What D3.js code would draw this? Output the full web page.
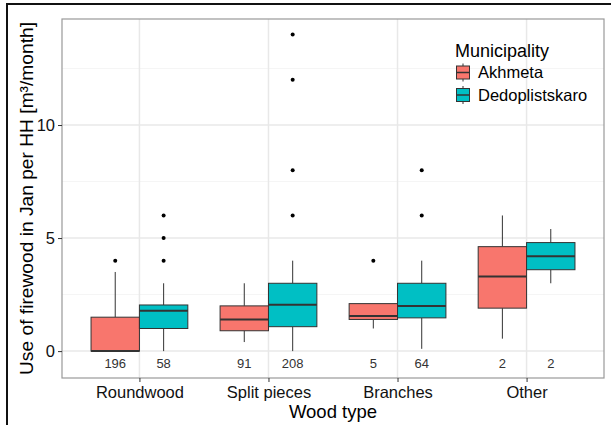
<!DOCTYPE html>
<html>
<head>
<meta charset="utf-8">
<script src="https://cdn.jsdelivr.net/npm/d3@7"></script>
<style>
  body { margin: 0; background: #fff; }
  svg text { font-family: "Liberation Sans", Arial, sans-serif; }
</style>
</head>
<body>
<div id="chart-area"></div>
<script>
// firewood use boxplot, Akhmeta vs Dedoplistskaro

let categories = ["Roundwood", "Split pieces", "Branches", "Other"];
let municipalities = ["Akhmeta", "Dedoplistskaro"];
let colors = ["#F8766D", "#00BFC4"];

// [lower whisker, q1, median, q3, upper whisker]
let akhmetaStats = [[0, 0, 0, 1.5, 3.5], [0.4, 0.9, 1.4, 2.0, 3.0], [1.0, 1.4, 1.55, 2.1, 2.1], [0.55, 1.9, 3.3, 4.62, 6.0]];
let dedoStats = [[0, 1.0, 1.78, 2.04, 3.0], [0, 1.08, 2.05, 3.0, 4.0], [0.1, 1.47, 2.0, 3.0, 4.0], [3.0, 3.6, 4.2, 4.8, 5.4]];

let akhmetaOutliers = [[4], [], [4], []];
let dedoOutliers = [[4, 5, 6], [6, 8, 12, 14], [6, 8], []];

let akhmetaN = [196, 91, 5, 2];
let dedoN = [58, 208, 64, 2];

let yTicks = [0, 5, 10];
let yMinor = [2.5, 7.5, 12.5];

let panel = {left: 62, top: 19, right: 604, bottom: 378};

let svg = d3.select("#chart-area").append("svg")
    .attr("width", 611)
    .attr("height", 425);

// outer frame (only top and left are visible)
svg.append("line").attr("x1", 6).attr("x2", 611).attr("y1", 4).attr("y2", 4)
    .attr("stroke", "#111").attr("stroke-width", 2);
svg.append("line").attr("x1", 7).attr("x2", 7).attr("y1", 3).attr("y2", 425)
    .attr("stroke", "#111").attr("stroke-width", 2);

// Scales
let x = d3.scalePoint()
    .domain(categories)
    .range([panel.left, panel.right])
    .padding(0.6);

let y = d3.scaleLinear()
    .domain([-1.19, 14.69])
    .range([panel.bottom, panel.top]);

let dodge = x.step() * 0.1875;
let boxW = x.step() * 0.375;

// grid
svg.selectAll(".minor").data(yMinor).enter().append("line")
    .attr("x1", panel.left).attr("x2", panel.right)
    .attr("y1", d => y(d)).attr("y2", d => y(d))
    .attr("stroke", "#f5f5f5").attr("stroke-width", 1);

svg.selectAll(".major-y").data(yTicks).enter().append("line")
    .attr("x1", panel.left).attr("x2", panel.right)
    .attr("y1", d => y(d)).attr("y2", d => y(d))
    .attr("stroke", "#e8e8e8").attr("stroke-width", 1.5);

svg.selectAll(".major-x").data(categories).enter().append("line")
    .attr("x1", d => x(d)).attr("x2", d => x(d))
    .attr("y1", panel.top).attr("y2", panel.bottom)
    .attr("stroke", "#e8e8e8").attr("stroke-width", 1.5);

// boxes
let groups = [
    {stats: akhmetaStats, out: akhmetaOutliers, n: akhmetaN, off: -dodge, fill: colors[0]},
    {stats: dedoStats, out: dedoOutliers, n: dedoN, off: dodge, fill: colors[1]}
];

groups.forEach(function (g) {
    categories.forEach(function (c, i) {
        let s = g.stats[i];
        let cx = x(c) + g.off;
        let b = svg.append("g");

        b.append("line")
            .attr("x1", cx).attr("x2", cx)
            .attr("y1", y(s[3])).attr("y2", y(s[4]))
            .attr("stroke", "#333").attr("stroke-width", 1);
        b.append("line")
            .attr("x1", cx).attr("x2", cx)
            .attr("y1", y(s[1])).attr("y2", y(s[0]))
            .attr("stroke", "#333").attr("stroke-width", 1);

        b.append("rect")
            .attr("x", cx - boxW / 2)
            .attr("y", y(s[3]))
            .attr("width", boxW)
            .attr("height", y(s[1]) - y(s[3]))
            .attr("fill", g.fill)
            .attr("stroke", "#333").attr("stroke-width", 1);

        b.append("line")
            .attr("x1", cx - boxW / 2).attr("x2", cx + boxW / 2)
            .attr("y1", y(s[2])).attr("y2", y(s[2]))
            .attr("stroke", "#333").attr("stroke-width", 2);

        b.selectAll("circle").data(g.out[i]).enter().append("circle")
            .attr("cx", cx).attr("cy", d => y(d))
            .attr("r", 2).attr("fill", "#000");

        svg.append("text")
            .attr("x", cx).attr("y", y(-0.55))
            .attr("dy", "0.35em")
            .attr("text-anchor", "middle")
            .attr("font-size", "13px")
            .attr("fill", "#333")
            .text(g.n[i]);
    });
});

// panel border
svg.append("rect")
    .attr("x", panel.left).attr("y", panel.top)
    .attr("width", panel.right - panel.left)
    .attr("height", panel.bottom - panel.top)
    .attr("fill", "none").attr("stroke", "#999").attr("stroke-width", 1.2);

// axes
let yAxis = d3.axisLeft(y).tickValues(yTicks).tickSize(4).tickPadding(3);
let xAxis = d3.axisBottom(x).tickSize(4).tickPadding(4);

svg.append("g")
    .attr("class", "y-axis")
    .attr("transform", "translate(" + panel.left + ",0)")
    .call(yAxis);

svg.append("g")
    .attr("class", "x-axis")
    .attr("transform", "translate(0," + panel.bottom + ")")
    .call(xAxis);

svg.selectAll(".domain").remove();
svg.selectAll(".tick line").attr("stroke", "#333");
svg.selectAll(".tick text")
    .attr("font-size", "16.5px")
    .attr("fill", "#111")
    .style("font-family", "'Liberation Sans', Arial, sans-serif");

// axis titles
svg.append("text")
    .attr("x", (panel.left + panel.right) / 2)
    .attr("y", 418)
    .attr("text-anchor", "middle")
    .attr("font-size", "18.5px")
    .attr("fill", "#000")
    .text("Wood type");

svg.append("text")
    .attr("transform", "translate(33," + (panel.top + panel.bottom) / 2 + ") rotate(-90)")
    .attr("text-anchor", "middle")
    .attr("font-size", "19.2px")
    .attr("fill", "#000")
    .text("Use of firewood in Jan per HH [m³/month]");

// legend
let legend = svg.append("g").attr("transform", "translate(455,0)");

legend.append("text")
    .attr("x", 0).attr("y", 57)
    .attr("font-size", "18px")
    .attr("fill", "#000")
    .text("Municipality");

municipalities.forEach(function (m, i) {
    let cy = 72.5 + i * 22.5;
    let k = legend.append("g");
    k.append("line")
        .attr("x1", 8).attr("x2", 8)
        .attr("y1", cy - 9).attr("y2", cy + 9)
        .attr("stroke", "#333");
    k.append("rect")
        .attr("x", 1.5).attr("y", cy - 6.5)
        .attr("width", 13).attr("height", 13)
        .attr("fill", colors[i])
        .attr("stroke", "#333");
    k.append("line")
        .attr("x1", 1.5).attr("x2", 14.5)
        .attr("y1", cy).attr("y2", cy)
        .attr("stroke", "#333").attr("stroke-width", 1.5);
    legend.append("text")
        .attr("x", 23).attr("y", cy)
        .attr("dy", "0.35em")
        .attr("font-size", "16.5px")
        .attr("fill", "#000")
        .text(m);
});
</script>
</body>
</html>
